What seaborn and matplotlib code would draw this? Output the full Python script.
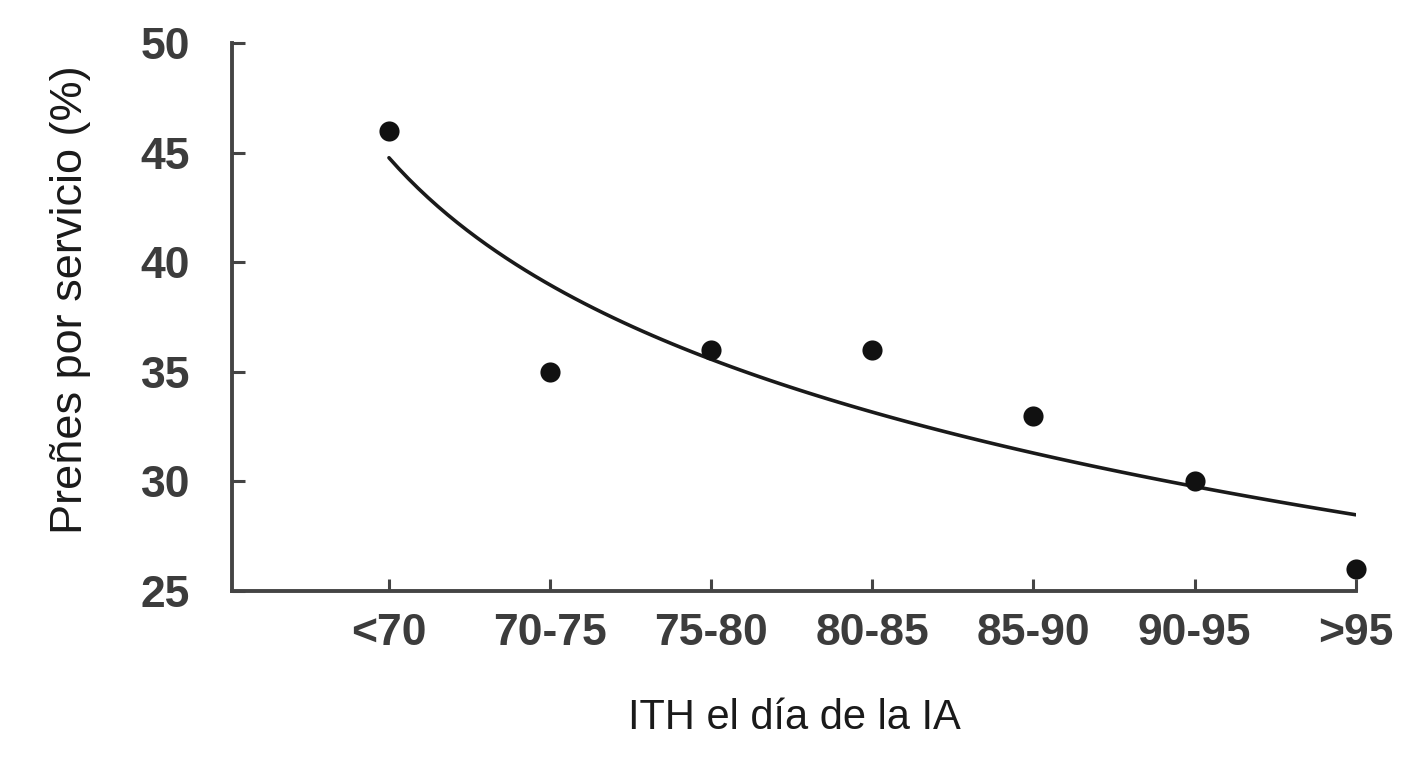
import numpy as np
import pandas as pd
import seaborn as sns
import matplotlib.pyplot as plt

# data
categories = ['<70', '70-75', '75-80', '80-85', '85-90', '90-95', '>95']
positions = [1, 2, 3, 4, 5, 6, 7]
prenez = [46, 35, 36, 36, 33, 30, 26]
yticks = [25, 30, 35, 40, 45, 50]

sns.set_style('white')
plt.rcParams['font.family'] = ['Liberation Sans', 'DejaVu Sans']
plt.rcParams['xtick.direction'] = 'in'
plt.rcParams['ytick.direction'] = 'in'

df = pd.DataFrame({'x': positions, 'y': prenez})

fig = plt.figure(figsize=(14.02, 7.75), dpi=100)
ax = fig.add_axes([0.1655, 0.2374, 0.967 - 0.1655, 0.9445 - 0.2374])

# log trend line, same as the fitted curve in the figure
sns.regplot(data=df, x='x', y='y', logx=True, ci=None, ax=ax, color='#111111',
            scatter_kws={'s': 210, 'linewidths': 0, 'zorder': 3, 'alpha': 1, 'clip_on': False},
            line_kws={'color': '#1a1a1a', 'linewidth': 2.6})

ax.set_xlim(0.026, 7.0)
ax.set_ylim(25, 50)
ax.set_xticks(positions)
ax.set_xticklabels(categories)
ax.set_yticks(yticks)

for s in ['top', 'right']:
    ax.spines[s].set_visible(False)
for s in ['left', 'bottom']:
    ax.spines[s].set_color('#444444')
    ax.spines[s].set_linewidth(2.8)

ax.tick_params(axis='both', which='major', direction='in', length=9, width=2.2, color='#444444',
               bottom=True, left=True, labelsize=32, labelcolor='#3c3c3c')
ax.tick_params(axis='y', pad=30)
ax.tick_params(axis='x', pad=16)
for lab in ax.get_xticklabels() + ax.get_yticklabels():
    lab.set_fontweight('bold')

ax.set_xlabel('ITH el día de la IA', fontsize=30, color='#1a1a1a', va='center')
ax.set_ylabel('Preñes por servicio (%)', fontsize=32.5, color='#1a1a1a', va='center')
ax.xaxis.set_label_coords(0.5, -0.232)
ax.yaxis.set_label_coords(-0.144, 0.531)

fig.savefig('out.png', dpi=100, facecolor='white')
